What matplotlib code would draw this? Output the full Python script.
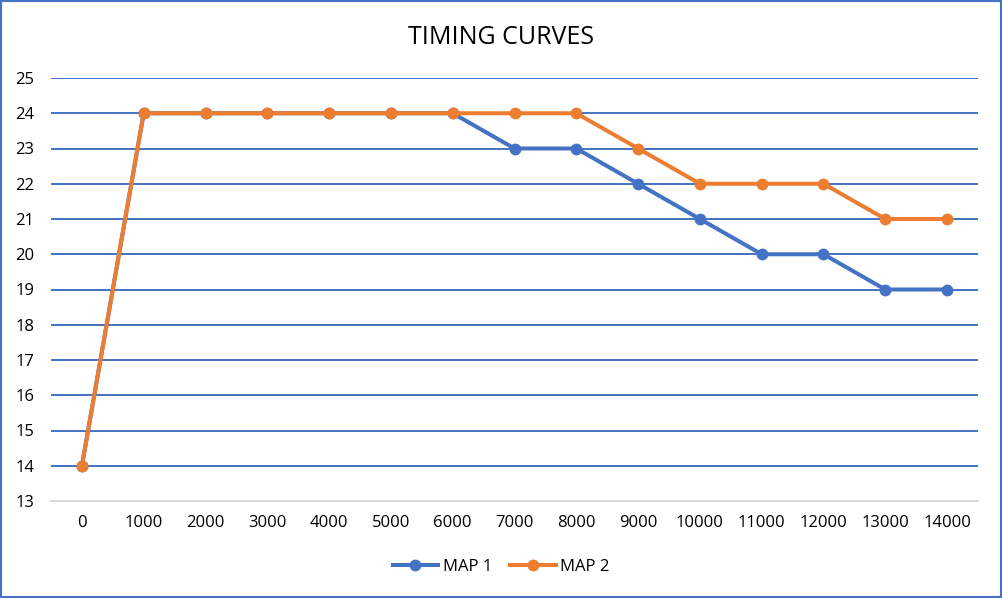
import matplotlib
matplotlib.use("Agg")
import matplotlib.pyplot as plt
from matplotlib.patches import Rectangle
from matplotlib.lines import Line2D

categories = ["0", "1000", "2000", "3000", "4000", "5000", "6000", "7000",
              "8000", "9000", "10000", "11000", "12000", "13000", "14000"]
map1 = [14, 24, 24, 24, 24, 24, 24, 23, 23, 22, 21, 20, 20, 19, 19]
map2 = [14, 24, 24, 24, 24, 24, 24, 24, 24, 23, 22, 22, 22, 21, 21]
series_names = ["MAP 1", "MAP 2"]
y_ticks = list(range(13, 26))

blue = "#4472C4"
orange = "#ED7D31"
plt.rcParams['font.family'] = ['Open Sans', 'DejaVu Sans']

fig = plt.figure(figsize=(10.02, 5.98), dpi=100)
ax = fig.add_axes([51/1002, 1-501/598, (978-51)/1002, (501-78)/598])

x = list(range(len(categories)))
ax.plot(x, map1, color=blue, lw=2.9, marker='o', ms=7.5, solid_capstyle='round', zorder=3)
ax.plot(x, map2, color=orange, lw=2.9, marker='o', ms=7.5, solid_capstyle='round', zorder=4)

ax.set_xlim(-0.5, len(categories)-0.5)
ax.set_ylim(13, 25)
ax.set_yticks(y_ticks)
ax.set_yticklabels([str(v) for v in y_ticks])
ax.set_xticks(x)
ax.set_xticklabels(categories)
for v in y_ticks[1:]:
    ax.axhline(v, color=blue, lw=1.4, zorder=1)
for s in ["top", "right", "left"]:
    ax.spines[s].set_visible(False)
ax.spines["bottom"].set_color("#D9D9D9")
ax.spines["bottom"].set_linewidth(1.4)
ax.tick_params(axis='both', length=0, labelsize=12, colors="#000000")
ax.tick_params(axis='x', pad=10)
ax.tick_params(axis='y', pad=12)

fig.text(0.5, 1-37/598, "TIMING CURVES", ha='center', va='center', fontsize=18, color="#000000")

handles = [Line2D([], [], color=blue, lw=2.9, marker='o', ms=7.5),
           Line2D([], [], color=orange, lw=2.9, marker='o', ms=7.5)]
fig.legend(handles, series_names, loc='center', bbox_to_anchor=(0.5, 1-567/598), ncol=2,
           frameon=False, fontsize=12, handlelength=2.75, columnspacing=1.1, handletextpad=0.25)

fig.patches.append(Rectangle((0.001, 0.002), 0.998, 0.996, transform=fig.transFigure,
                             fill=False, edgecolor=blue, lw=1.5))
fig.savefig("out.png", dpi=100)
